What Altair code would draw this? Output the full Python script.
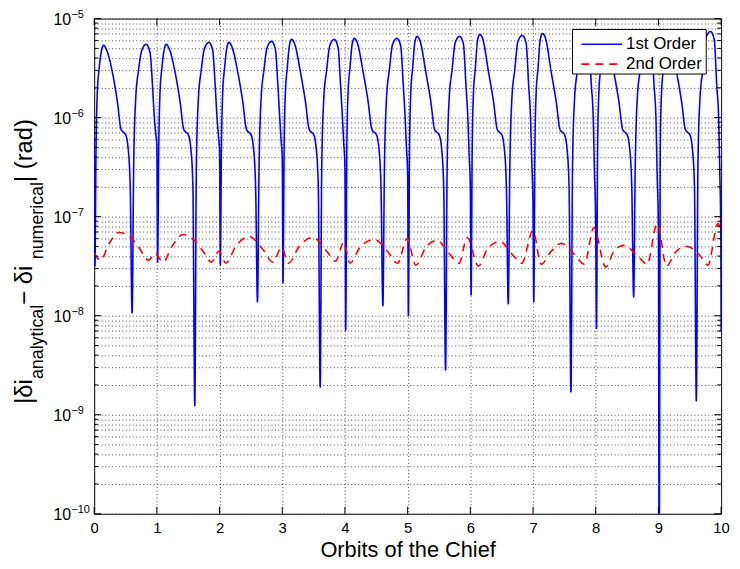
import altair as alt
import pandas as pd

SERIES = ["1st Order", "2nd Order"]

# 1st order error: x (orbits) and log10 of the error (rad)
BLUE_X = [
    0.000, 0.012, 0.030, 0.050, 0.080, 0.115, 0.150, 0.200, 0.290, 0.370, 0.430, 0.470, 0.500, 0.540, 0.575, 0.605, 0.630, 0.660, 0.710, 0.760, 0.830, 0.890, 0.930, 0.960, 0.980,
    1.000, 1.012, 1.030, 1.050, 1.080, 1.115, 1.150, 1.200, 1.290, 1.370, 1.430, 1.470, 1.500, 1.540, 1.575, 1.605, 1.630, 1.660, 1.710, 1.760, 1.830, 1.890, 1.930, 1.960, 1.980,
    2.000, 2.012, 2.030, 2.050, 2.080, 2.115, 2.150, 2.200, 2.290, 2.370, 2.430, 2.470, 2.500, 2.540, 2.575, 2.605, 2.630, 2.660, 2.710, 2.760, 2.830, 2.890, 2.930, 2.960, 2.980,
    3.000, 3.012, 3.030, 3.050, 3.080, 3.115, 3.150, 3.200, 3.290, 3.370, 3.430, 3.470, 3.500, 3.540, 3.575, 3.605, 3.630, 3.660, 3.710, 3.760, 3.830, 3.890, 3.930, 3.960, 3.980,
    4.000, 4.012, 4.030, 4.050, 4.080, 4.115, 4.150, 4.200, 4.290, 4.370, 4.430, 4.470, 4.500, 4.540, 4.575, 4.605, 4.630, 4.660, 4.710, 4.760, 4.830, 4.890, 4.930, 4.960, 4.980,
    5.000, 5.012, 5.030, 5.050, 5.080, 5.115, 5.150, 5.200, 5.290, 5.370, 5.430, 5.470, 5.500, 5.540, 5.575, 5.605, 5.630, 5.660, 5.710, 5.760, 5.830, 5.890, 5.930, 5.960, 5.980,
    6.000, 6.012, 6.030, 6.050, 6.080, 6.115, 6.150, 6.200, 6.290, 6.370, 6.430, 6.470, 6.500, 6.540, 6.575, 6.605, 6.630, 6.660, 6.710, 6.760, 6.830, 6.890, 6.930, 6.960, 6.980,
    7.000, 7.012, 7.030, 7.050, 7.080, 7.115, 7.150, 7.200, 7.290, 7.370, 7.430, 7.470, 7.500, 7.540, 7.575, 7.605, 7.630, 7.660, 7.710, 7.760, 7.830, 7.890, 7.930, 7.960, 7.980,
    8.000, 8.012, 8.030, 8.050, 8.080, 8.115, 8.150, 8.200, 8.290, 8.370, 8.430, 8.470, 8.500, 8.540, 8.575, 8.605, 8.630, 8.660, 8.710, 8.760, 8.830, 8.890, 8.930, 8.960, 8.980,
    9.000, 9.012, 9.030, 9.050, 9.080, 9.115, 9.150, 9.200, 9.290, 9.370, 9.430, 9.470, 9.500, 9.540, 9.575, 9.605, 9.630, 9.660, 9.710, 9.760, 9.830, 9.890, 9.930, 9.960, 9.980,
    9.995, 10.000,
]
BLUE_LOG = [
    -6.20, -7.50, -6.3, -5.75, -5.5, -5.33, -5.27, -5.32, -5.54, -5.84, -6.12, -6.15, -6.17, -6.3, -6.7, -7.97, -6.5, -5.84, -5.51, -5.32, -5.26, -5.34, -5.67, -6.0, -6.15,
    -6.29, -7.46, -6.3, -5.75, -5.5, -5.32, -5.26, -5.31, -5.54, -5.84, -6.12, -6.15, -6.17, -6.3, -6.7, -8.91, -6.5, -5.84, -5.51, -5.30, -5.24, -5.32, -5.67, -6.0, -6.17,
    -6.34, -7.49, -6.3, -5.75, -5.5, -5.30, -5.24, -5.29, -5.54, -5.84, -6.12, -6.15, -6.17, -6.3, -6.7, -7.86, -6.5, -5.84, -5.51, -5.29, -5.23, -5.31, -5.67, -6.0, -6.21,
    -6.42, -7.67, -6.3, -5.75, -5.5, -5.27, -5.21, -5.26, -5.54, -5.84, -6.12, -6.15, -6.17, -6.3, -6.7, -8.72, -6.5, -5.84, -5.51, -5.27, -5.21, -5.29, -5.67, -6.0, -6.25,
    -6.49, -8.15, -6.3, -5.75, -5.5, -5.26, -5.20, -5.25, -5.54, -5.84, -6.12, -6.15, -6.17, -6.3, -6.7, -7.90, -6.5, -5.84, -5.51, -5.26, -5.20, -5.28, -5.67, -6.0, -6.29,
    -6.57, -8.00, -6.3, -5.75, -5.5, -5.24, -5.18, -5.23, -5.54, -5.84, -6.12, -6.15, -6.17, -6.3, -6.7, -8.55, -6.5, -5.84, -5.51, -5.24, -5.18, -5.26, -5.67, -6.0, -6.36,
    -6.71, -7.79, -6.3, -5.75, -5.5, -5.22, -5.16, -5.21, -5.54, -5.84, -6.12, -6.15, -6.17, -6.3, -6.7, -7.88, -6.5, -5.84, -5.51, -5.23, -5.17, -5.25, -5.67, -6.0, -6.45,
    -6.89, -7.86, -6.3, -5.75, -5.5, -5.21, -5.15, -5.20, -5.54, -5.84, -6.12, -6.15, -6.17, -6.3, -6.7, -8.77, -6.5, -5.84, -5.51, -5.21, -5.15, -5.23, -5.67, -6.0, -6.55,
    -7.11, -8.13, -6.3, -5.75, -5.5, -5.20, -5.14, -5.19, -5.54, -5.84, -6.12, -6.15, -6.17, -6.3, -6.7, -7.81, -6.5, -5.84, -5.51, -5.20, -5.14, -5.22, -5.67, -6.0, -6.57,
    -7.15, -10.5, -6.3, -5.75, -5.5, -5.19, -5.13, -5.18, -5.54, -5.84, -6.12, -6.15, -6.17, -6.3, -6.7, -8.86, -6.5, -5.84, -5.51, -5.19, -5.13, -5.21, -5.67, -6.0, -6.58,
    -7.17, -8.16,
]

# 2nd order error
RED_X = [
    0.00, 0.10, 0.24, 0.39, 0.55, 0.71, 0.87, 0.97,
    1.10, 1.24, 1.42, 1.60, 1.76, 1.87, 1.99,
    2.10, 2.26, 2.47, 2.69, 2.85, 2.99,
    3.10, 3.27, 3.49, 3.71, 3.85, 3.98,
    4.08, 4.24, 4.47, 4.69, 4.84, 4.99,
    5.13, 5.29, 5.47, 5.66, 5.82, 5.95,
    6.13, 6.27, 6.47, 6.68, 6.82, 7.00,
    7.13, 7.29, 7.45, 7.66, 7.82, 7.97,
    8.16, 8.29, 8.45, 8.66, 8.82, 8.98,
    9.13, 9.27, 9.45, 9.66, 9.79, 9.95, 10.00,
]
RED_LOG = [
    -7.37, -7.44, -7.27, -7.16, -7.19, -7.31, -7.44, -7.37,
    -7.46, -7.30, -7.18, -7.24, -7.37, -7.46, -7.35,
    -7.47, -7.30, -7.20, -7.33, -7.46, -7.31,
    -7.47, -7.30, -7.21, -7.35, -7.45, -7.26,
    -7.47, -7.31, -7.23, -7.36, -7.47, -7.22,
    -7.49, -7.31, -7.24, -7.37, -7.47, -7.21,
    -7.50, -7.33, -7.25, -7.39, -7.47, -7.14,
    -7.48, -7.35, -7.27, -7.38, -7.48, -7.11,
    -7.51, -7.35, -7.29, -7.39, -7.48, -7.07,
    -7.50, -7.36, -7.30, -7.39, -7.49, -7.07, -7.16,
]

X_TICKS = [0, 1, 2, 3, 4, 5, 6, 7, 8, 9, 10]
Y_DECADES = [1e-10, 1e-9, 1e-8, 1e-7, 1e-6, 1e-5]
Y_EXPONENTS = ["\u221210", "\u22129", "\u22128", "\u22127", "\u22126", "\u22125"]
Y_MINOR = [m * d for d in Y_DECADES[:-1] for m in range(2, 10)]
Y_GRID = sorted(Y_DECADES + Y_MINOR)

FONT = "Liberation Sans"
W, H = 633, 500
BLUE, RED = "#0000ff", "#ff0000"
DASH = [8, 6]
GRID_DASH = [1, 2.5]
GRID_COLOR = "#444"

df = pd.concat([
    pd.DataFrame({"x": BLUE_X, "v": [10.0 ** e for e in BLUE_LOG], "series": SERIES[0]}),
    pd.DataFrame({"x": RED_X, "v": [10.0 ** e for e in RED_LOG], "series": SERIES[1]}),
], ignore_index=True)

xscale = alt.Scale(domain=[0, 10], nice=False, zero=False)
yscale = alt.Scale(type="log", domain=[1e-10, 1e-5], nice=False)

XAXIS = alt.Axis(
    values=X_TICKS, format="d", grid=True, gridDash=GRID_DASH, gridColor=GRID_COLOR, gridWidth=1,
    ticks=False, domain=False, labelFontSize=15, labelFont=FONT, labelColor="black",
    labelFlush=False, labelPadding=7, title="Orbits of the Chief", titleFontSize=22, titleFont=FONT,
    titleFontWeight="normal", titleColor="black", titlePadding=4)
YAXIS = alt.Axis(
    values=Y_GRID, grid=True, gridDash=GRID_DASH, gridColor=GRID_COLOR, gridWidth=1,
    labels=False, ticks=False, domain=False, title=None)

def X(field):
    return alt.X(field, scale=xscale, axis=XAXIS)

def Y(field):
    return alt.Y(field, scale=yscale, axis=YAXIS)

lines = alt.Chart(df).mark_line(interpolate="monotone", strokeWidth=1.6, clip=True).encode(
    x=X("x:Q"),
    y=Y("v:Q"),
    color=alt.Color("series:N", scale=alt.Scale(domain=SERIES, range=[BLUE, RED]), legend=None),
    strokeDash=alt.StrokeDash("series:N", scale=alt.Scale(domain=SERIES, range=[[1, 0], DASH]), legend=None),
)

layers = [lines]

def yticks(vals, length):
    d = pd.DataFrame({"v": vals})
    left = alt.Chart(d).mark_rule(color="black", strokeWidth=1).encode(
        y=Y("v:Q"), x=alt.value(0), x2=alt.value(length))
    right = alt.Chart(d).mark_rule(color="black", strokeWidth=1).encode(
        y=Y("v:Q"), x=alt.value(W), x2=alt.value(W - length))
    return [left, right]

layers += yticks(Y_DECADES, 7)
layers += yticks(Y_MINOR, 4)

xt = pd.DataFrame({"x": X_TICKS})
layers.append(alt.Chart(xt).mark_rule(color="black", strokeWidth=1).encode(
    x=X("x:Q"), y=alt.value(H), y2=alt.value(H - 7)))
layers.append(alt.Chart(xt).mark_rule(color="black", strokeWidth=1).encode(
    x=X("x:Q"), y=alt.value(0), y2=alt.value(7)))

# y tick labels 10^k
yl = pd.DataFrame({"v": Y_DECADES, "e": Y_EXPONENTS})
layers.append(alt.Chart(yl).mark_text(align="left", baseline="middle", fontSize=16, font=FONT, color="black", dy=1).encode(
    y=Y("v:Q"), x=alt.value(-41), text=alt.value("10")))
layers.append(alt.Chart(yl).mark_text(align="left", baseline="alphabetic", fontSize=11, font=FONT, color="black", dy=-0.5).encode(
    y=Y("v:Q"), x=alt.value(-23), text="e:N"))

# y axis title with subscripts, built from pieces
MAIN_X, SUB_X = -62.5, -51.5
TITLE_PARTS = [
    ("|\u03b4i", MAIN_X, 389, 24),
    ("analytical", SUB_X, 364, 18),
    (" \u2212 \u03b4i", MAIN_X, 289, 24),
    ("numerical", SUB_X, 243, 18),
    ("| (rad)", MAIN_X, 165, 24),
]
for txt, px, py, fs in TITLE_PARTS:
    layers.append(alt.Chart(alt.Data(values=[{"t": txt}])).mark_text(
        angle=270, align="left", baseline="alphabetic", fontSize=fs, font=FONT, color="black"
    ).encode(x=alt.value(px), y=alt.value(py), text="t:N"))

# legend box
one = alt.Data(values=[{"k": 0}])
layers.append(alt.Chart(one).mark_rect(fill="white", stroke="black", strokeWidth=1).encode(
    x=alt.value(483), x2=alt.value(618), y=alt.value(11), y2=alt.value(56)))
LEG_ROWS = [(SERIES[0], BLUE, [1, 0], 26), (SERIES[1], RED, DASH, 46)]
for name, col, dash, yy in LEG_ROWS:
    layers.append(alt.Chart(one).mark_rule(color=col, strokeWidth=1.6, strokeDash=dash).encode(
        x=alt.value(492), x2=alt.value(533), y=alt.value(yy)))
    layers.append(alt.Chart(alt.Data(values=[{"t": name}])).mark_text(
        align="left", baseline="middle", fontSize=17, font=FONT, color="black"
    ).encode(x=alt.value(537), y=alt.value(yy), text="t:N"))

chart = alt.layer(*layers).properties(
    width=W, height=H,
    padding={"left": 87, "top": 8, "right": 11, "bottom": 45},
    autosize=alt.AutoSizeParams(type="none"),
).configure(font=FONT, background="white").configure_view(stroke="black", strokeWidth=1)

chart.save("out.html", embed_options={"renderer": "svg", "actions": False})
